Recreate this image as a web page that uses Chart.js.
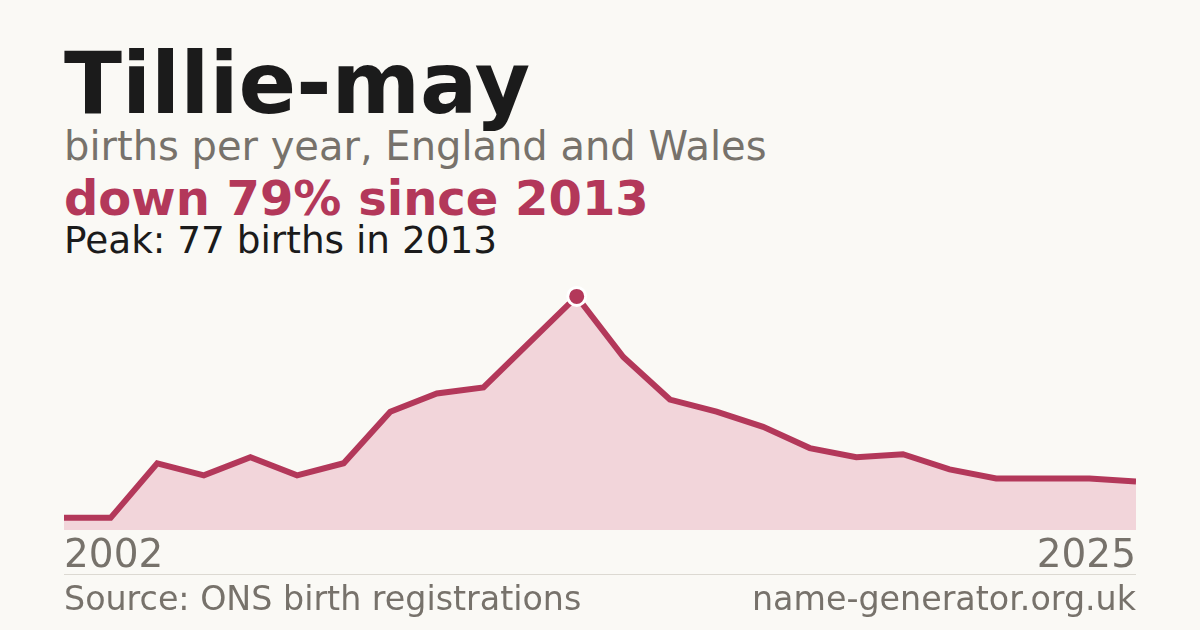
<!DOCTYPE html>
<html>
<head>
<meta charset="utf-8">
<script src="https://cdn.jsdelivr.net/npm/chart.js@4/dist/chart.umd.min.js"></script>
<style>
  html, body { margin: 0; padding: 0; }
  body { width: 1200px; height: 630px; background: #faf9f5; position: relative; overflow: hidden;
         font-family: "DejaVu Sans", sans-serif; }
  .t { position: absolute; left: 64px; line-height: 1; white-space: nowrap; margin: 0; }
  #title { top: 41px; font-size: 85px; font-weight: bold; color: #1b1b1b; }
  #sub { top: 126px; font-size: 40px; color: #77726b; }
  #change { top: 174px; font-size: 48px; font-weight: bold; color: #b3385a; }
  #peak { top: 222px; font-size: 37.4px; color: #1b1b1b; }
  #rule { position: absolute; left: 64px; top: 574px; width: 1072px; height: 1px; background: #dcd9d2; }
  #source { top: 582px; font-size: 33.3px; color: #77726b; }
  #site { top: 582px; font-size: 33.3px; color: #77726b; left: auto; right: 64px; }
  #wrap { position: absolute; left: 64px; top: 260px; width: 1072px; height: 320px; }
</style>
</head>
<body>
<div class="t" id="title">Tillie-may</div>
<div class="t" id="sub">births per year, England and Wales</div>
<div class="t" id="change">down 79% since 2013</div>
<div class="t" id="peak">Peak: 77 births in 2013</div>
<div id="wrap"><canvas id="chart" width="1072" height="320"></canvas></div>
<div id="rule"></div>
<div class="t" id="source">Source: ONS birth registrations</div>
<div class="t" id="site">name-generator.org.uk</div>

<script>
// births per year
const years = ["2002","2003","2004","2005","2006","2007","2008","2009","2010","2011","2012","2013",
               "2014","2015","2016","2017","2018","2019","2020","2021","2022","2023","2024","2025"];
const births = [4, 4, 22, 18, 24, 18, 22, 39, 45, 47, 62, 77,
                57, 43, 39, 34, 27, 24, 25, 20, 17, 17, 17, 16];
const peakIndex = 11;

const red = "#b3385a";
const grey = "#77726b";

new Chart(document.getElementById("chart"), {
  type: "line",
  data: {
    labels: years,
    datasets: [{
      data: births,
      borderColor: red,
      borderWidth: 6,
      backgroundColor: "#f2d5da",
      fill: "origin",
      tension: 0,
      pointRadius: (c) => c.dataIndex === peakIndex ? 9 : 0,
      pointBackgroundColor: red,
      pointBorderColor: "#ffffff",
      pointBorderWidth: 3
    }]
  },
  options: {
    responsive: false,
    animation: false,
    layout: { padding: 0 },
    plugins: { legend: { display: false }, tooltip: { enabled: false } },
    scales: {
      x: {
        grid: { display: false },
        border: { display: false },
        afterFit: (s) => { s.height = 50; },
        ticks: {
          autoSkip: false,
          maxRotation: 0,
          align: "inner",
          padding: -5,
          color: grey,
          font: { family: "DejaVu Sans", size: 39 },
          callback: function (v, i) {
            return (i === 0 || i === years.length - 1) ? years[i] : "";
          }
        }
      },
      y: {
        display: false,
        min: 0,
        max: 89
      }
    }
  }
});
</script>
</body>
</html>
